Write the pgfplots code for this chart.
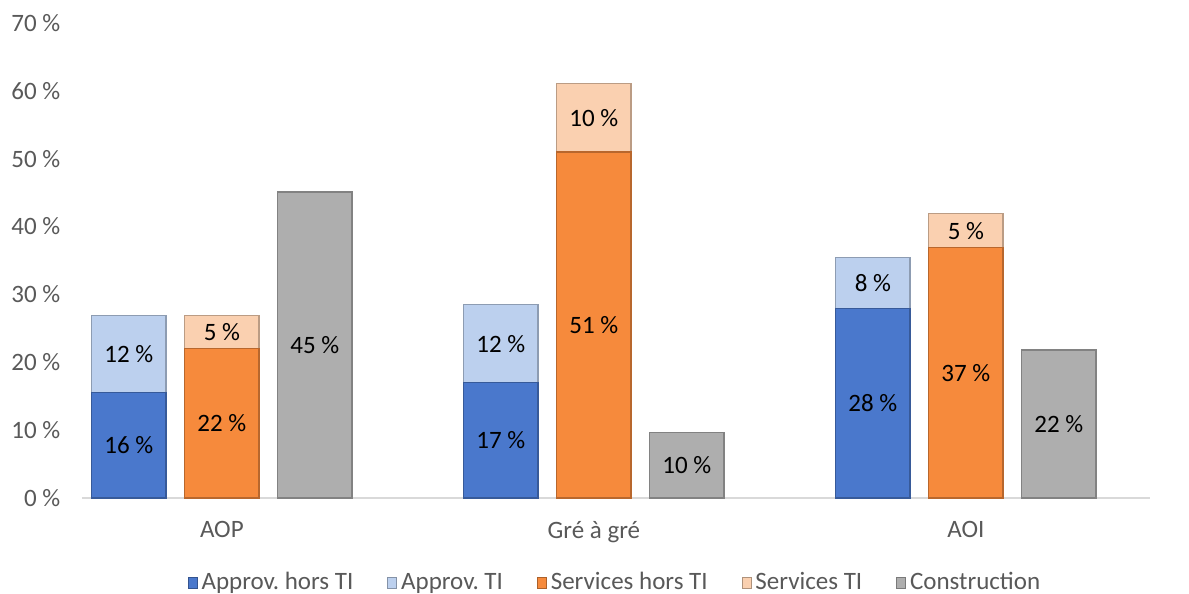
\documentclass[border=0pt]{standalone}
\usepackage{pgfplots}
\pgfplotsset{compat=1.18}
\usepackage{pgfplotstable}
\usepackage{fontspec}
\setmainfont{Carlito}
\definecolor{cA}{HTML}{4A78CC}
\definecolor{cB}{HTML}{BCD0EE}
\definecolor{cC}{HTML}{F68A3C}
\definecolor{cD}{HTML}{FAD0B0}
\definecolor{cE}{HTML}{AEAEAE}
\definecolor{tickgray}{HTML}{595959}
\pgfplotstableread{
x ahti ati shti sti con
0 15.5 26.9 22.0 26.9 45.1
1 17.0 28.5 51.0 61.1 9.7
2 27.9 35.5 36.9 41.9 21.8
}\data
\begin{document}
\fontsize{12.5}{14}\selectfont
\begin{tikzpicture}
\begin{axis}[
  at={(0,0)}, anchor=south west,
  scale only axis, width=534pt, height=237.5pt,
  xmin=-0.376, xmax=2.495, ymin=0, ymax=70,
  axis x line=bottom, axis y line=left,
  y axis line style={draw=none},
  x axis line style={-, draw=black!15, line width=1pt},
  major tick length=0pt,
  ytick={0,10,...,70},
  yticklabel={\pgfmathprintnumber[assume math mode=true]{\tick}~\%},
  yticklabel style={font=\fontsize{12.5}{14}\selectfont, text=tickgray, xshift=-6.5pt},
  xtick={0,1,2}, xticklabels={AOP, Gré à gré, AOI},
  xticklabel style={font=\fontsize{12.5}{14}\selectfont, text=tickgray, yshift=-7.5pt},
  bar width=0.2,
  legend style={at={(0.5,-0.179)}, anchor=center, legend columns=5, draw=none,
    font=\fontsize{12.5}{14}\selectfont, text=tickgray,
    /tikz/every even column/.append style={column sep=15pt},
    inner sep=0pt},
  legend image code/.code={\draw[#1, line width=0.4pt] (0pt,-2.5pt) rectangle (4.5pt,3pt);},
  every node near coord/.append style={anchor=center, font=\fontsize{12.5}{14}\selectfont, text=black},
]
\addlegendimage{fill=cA, draw=cA!70!black}
\addlegendentry{Approv.\ hors TI}
\addlegendimage{fill=cB, draw=cB!70!black}
\addlegendentry{Approv.\ TI}
\addlegendimage{fill=cC, draw=cC!70!black}
\addlegendentry{Services hors TI}
\addlegendimage{fill=cD, draw=cD!70!black}
\addlegendentry{Services TI}
\addlegendimage{fill=cE, draw=cE!70!black}
\addlegendentry{Construction}

\addplot[ybar, bar shift=-0.25, fill=cB, draw=cB!75!black, line width=0.6pt, forget plot] table[x=x, y=ati] {\data};
\addplot[ybar, bar shift=-0.25, fill=cA, draw=cA!75!black, line width=0.6pt, forget plot] table[x=x, y=ahti] {\data};
\addplot[ybar, bar shift=0, fill=cD, draw=cD!75!black, line width=0.6pt, forget plot] table[x=x, y=sti] {\data};
\addplot[ybar, bar shift=0, fill=cC, draw=cC!75!black, line width=0.6pt, forget plot] table[x=x, y=shti] {\data};
\addplot[ybar, bar shift=0.25, fill=cE, draw=cE!75!black, line width=0.6pt, forget plot] table[x=x, y=con] {\data};

\addplot[draw=none, mark=none, forget plot, nodes near coords, point meta=explicit symbolic]
 coordinates {
 (-0.25,7.75) [16~\%]
 (-0.25,21.2) [12~\%]
 (0,11.0) [22~\%]
 (0,24.45) [5~\%]
 (0.25,22.55) [45~\%]
 (0.75,8.5) [17~\%]
 (0.75,22.75) [12~\%]
 (1,25.5) [51~\%]
 (1,56.05) [10~\%]
 (1.25,4.85) [10~\%]
 (1.75,13.95) [28~\%]
 (1.75,31.7) [8~\%]
 (2,18.45) [37~\%]
 (2,39.4) [5~\%]
 (2.25,10.9) [22~\%]
 };
\end{axis}
\pgfresetboundingbox
\path[use as bounding box] (-41pt,-48pt) rectangle (553.5pt,249pt);
\end{tikzpicture}
\end{document}
